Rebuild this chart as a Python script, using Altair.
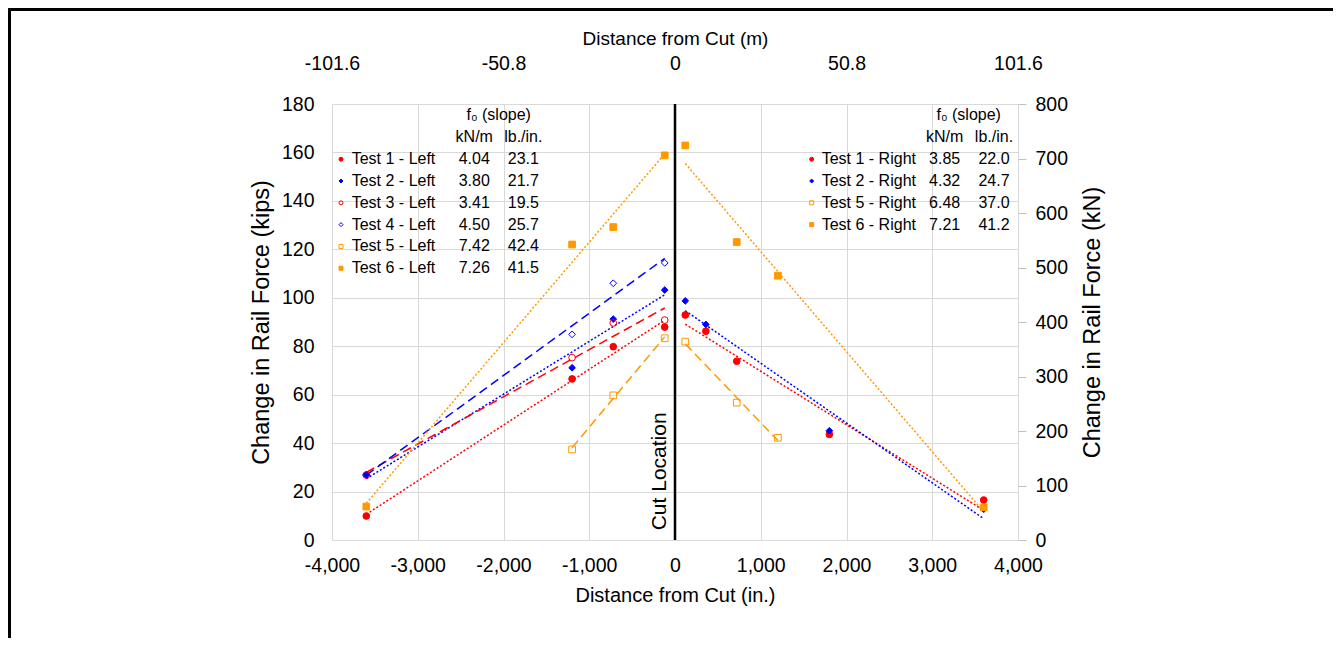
import altair as alt
import pandas as pd

# ---------------- data ----------------
T1L_X = [-3600, -1200, -720, -120]
T1L_Y = [9.9, 66.5, 79.8, 87.9]
T2L_X = [-3600, -1200, -720, -120]
T2L_Y = [26.8, 71.1, 91.2, 103.2]
T3L_X = [-3600, -1200, -720, -120]
T3L_Y = [26.8, 75.3, 89.6, 90.8]
T4L_X = [-3600, -1200, -720, -120]
T4L_Y = [27.0, 84.9, 106.0, 114.4]
T5L_X = [-1200, -720, -120]
T5L_Y = [37.4, 59.7, 83.3]
T6L_X = [-3600, -1200, -720, -120]
T6L_Y = [13.8, 122.0, 129.2, 158.8]

T1R_X = [120, 360, 720, 1800, 3600]
T1R_Y = [92.9, 86.2, 73.8, 43.6, 16.5]
T2R_X = [120, 360, 1800, 3600]
T2R_Y = [98.7, 89.0, 45.1, 12.7]
T5R_X = [120, 720, 1200]
T5R_Y = [81.9, 56.7, 42.2]
T6R_X = [120, 720, 1200, 3600]
T6R_Y = [162.9, 123.0, 109.1, 13.5]

TESTS = ["Test 1", "Test 2", "Test 3", "Test 4", "Test 5", "Test 6"]
LEFT_TESTS = ["Test 1", "Test 2", "Test 3", "Test 4", "Test 5", "Test 6"]
LEFT_LABELS = ["Test 1 - Left", "Test 2 - Left", "Test 3 - Left",
               "Test 4 - Left", "Test 5 - Left", "Test 6 - Left"]
LEFT_KNM = ["4.04", "3.80", "3.41", "4.50", "7.42", "7.26"]
LEFT_LBIN = ["23.1", "21.7", "19.5", "25.7", "42.4", "41.5"]
RIGHT_TESTS = ["Test 1", "Test 2", "Test 5", "Test 6"]
RIGHT_LABELS = ["Test 1 - Right", "Test 2 - Right", "Test 5 - Right", "Test 6 - Right"]
RIGHT_KNM = ["3.85", "4.32", "6.48", "7.21"]
RIGHT_LBIN = ["22.0", "24.7", "37.0", "41.2"]

X_TICKS_IN = [-4000, -3000, -2000, -1000, 0, 1000, 2000, 3000, 4000]
X_TICKS_M = [-101.6, -50.8, 0, 50.8, 101.6]
Y_TICKS_KIPS = [0, 20, 40, 60, 80, 100, 120, 140, 160, 180]
Y_TICKS_KN = [0, 100, 200, 300, 400, 500, 600, 700, 800]
CUT_X = [0]

# ---------------- styles ----------------
RED, BLUE, ORANGE = "#FF0000", "#0000FF", "#FF9900"
FONT = "Liberation Sans"
COLORS = [RED, BLUE, RED, BLUE, ORANGE, ORANGE]
FILLS = [RED, BLUE, "transparent", "transparent", "transparent", ORANGE]
SHAPES = ["circle", "diamond", "circle", "diamond", "square", "square"]
SIZES = [45, 45, 45, 45, 50, 60]
DASHES = [[2, 2], [2, 2], [9, 5], [9, 5], [9, 5], [2, 2]]
WIDTHS = [1.5, 1.5, 2, 2, 2, 1.5]

# layout (data coordinates of the table-style legend)
LEG_TOP, LEG_STEP = 157.2, 9.0
LEFT_SYM_X, LEFT_LAB_X, LEFT_KN_X, LEFT_LB_X, LEFT_HEAD_X = -3895, -3770, -2341, -1769, -2056
RIGHT_SYM_X, RIGHT_LAB_X, RIGHT_KN_X, RIGHT_LB_X, RIGHT_HEAD_X = 1594, 1711, 3145, 3720, 3425
HEAD1_Y, HEAD2_Y = 175.5, 166.5

W, H = 686, 436
PAD = {"left": 324, "top": 96, "right": 315, "bottom": 98}

# ---------------- tables ----------------
series = [
    ("Test 1", "Left", T1L_X, T1L_Y), ("Test 2", "Left", T2L_X, T2L_Y),
    ("Test 3", "Left", T3L_X, T3L_Y), ("Test 4", "Left", T4L_X, T4L_Y),
    ("Test 5", "Left", T5L_X, T5L_Y), ("Test 6", "Left", T6L_X, T6L_Y),
    ("Test 1", "Right", T1R_X, T1R_Y), ("Test 2", "Right", T2R_X, T2R_Y),
    ("Test 5", "Right", T5R_X, T5R_Y), ("Test 6", "Right", T6R_X, T6R_Y),
]
rows = []
for t, side, xs, ys in series:
    for xv, yv in zip(xs, ys):
        rows.append({"test": t, "series": f"{t} - {side}", "x": xv, "y": yv})
df = pd.DataFrame(rows)

leg_rows = []
for i, (t, lab, kn, lb) in enumerate(zip(LEFT_TESTS, LEFT_LABELS, LEFT_KNM, LEFT_LBIN)):
    leg_rows.append({"test": t, "label": lab, "kn": kn, "lb": lb, "ly": LEG_TOP - i * LEG_STEP,
                     "sx": LEFT_SYM_X, "lx": LEFT_LAB_X, "knx": LEFT_KN_X, "lbx": LEFT_LB_X})
for i, (t, lab, kn, lb) in enumerate(zip(RIGHT_TESTS, RIGHT_LABELS, RIGHT_KNM, RIGHT_LBIN)):
    leg_rows.append({"test": t, "label": lab, "kn": kn, "lb": lb, "ly": LEG_TOP - i * LEG_STEP,
                     "sx": RIGHT_SYM_X, "lx": RIGHT_LAB_X, "knx": RIGHT_KN_X, "lbx": RIGHT_LB_X})
leg = pd.DataFrame(leg_rows)

heads = pd.DataFrame([
    {"hx": LEFT_HEAD_X, "hy": HEAD1_Y, "txt": "f\u2080 (slope)"},
    {"hx": RIGHT_HEAD_X, "hy": HEAD1_Y, "txt": "f\u2080 (slope)"},
    {"hx": LEFT_KN_X, "hy": HEAD2_Y, "txt": "kN/m"},
    {"hx": LEFT_LB_X, "hy": HEAD2_Y, "txt": "lb./in."},
    {"hx": RIGHT_KN_X, "hy": HEAD2_Y, "txt": "kN/m"},
    {"hx": RIGHT_LB_X, "hy": HEAD2_Y, "txt": "lb./in."},
])

# ---------------- scales ----------------
xs_in = alt.Scale(domain=[-4000, 4000], nice=False)
ys_k = alt.Scale(domain=[0, 180], nice=False)
shape_s = alt.Scale(domain=TESTS, range=SHAPES)
fill_s = alt.Scale(domain=TESTS, range=FILLS)
stroke_s = alt.Scale(domain=TESTS, range=COLORS)

x_axis = alt.Axis(values=X_TICKS_IN, title="Distance from Cut (in.)",
                  labelExpr="(datum.value < 0 ? '-' : '') + format(abs(datum.value), ',')",
                  grid=True, ticks=False, tickSize=0, domain=False, labelFlush=False,
                  labelPadding=16, titlePadding=11, titleFontSize=20)
y_axis = alt.Axis(values=Y_TICKS_KIPS, title="Change in Rail Force (kips)",
                  grid=True, ticks=False, tickSize=0, domain=False, labelFlush=False,
                  labelPadding=18, titlePadding=8, titleFontSize=23.5)

base = alt.Chart(df)

lines = base.transform_regression(
    "x", "y", groupby=["series", "test"]
).mark_line().encode(
    x=alt.X("x:Q", scale=xs_in, axis=x_axis),
    y=alt.Y("y:Q", scale=ys_k, axis=y_axis),
    detail="series:N",
    stroke=alt.Stroke("test:N", scale=stroke_s, legend=None),
    strokeDash=alt.StrokeDash("test:N", scale=alt.Scale(domain=TESTS, range=DASHES), legend=None),
    strokeWidth=alt.StrokeWidth("test:N", scale=alt.Scale(domain=TESTS, range=WIDTHS), legend=None),
)

points = base.mark_point(filled=True, strokeWidth=1, opacity=1).encode(
    x=alt.X("x:Q", scale=xs_in),
    y=alt.Y("y:Q", scale=ys_k),
    shape=alt.Shape("test:N", scale=shape_s, legend=None),
    fill=alt.Fill("test:N", scale=fill_s, legend=None),
    stroke=alt.Stroke("test:N", scale=stroke_s, legend=None),
    size=alt.Size("test:N", scale=alt.Scale(domain=TESTS, range=SIZES), legend=None),
)

cut = alt.Chart(pd.DataFrame({"x": CUT_X})).mark_rule(color="black", strokeWidth=2.5).encode(
    x=alt.X("x:Q", scale=xs_in)
)
cut_label = alt.Chart(pd.DataFrame({"x": [-175], "y": [4], "t": ["Cut Location"]})).mark_text(
    angle=270, align="left", baseline="middle", fontSize=21, font=FONT, color="black"
).encode(x=alt.X("x:Q", scale=xs_in), y=alt.Y("y:Q", scale=ys_k), text="t:N")

lb = alt.Chart(leg)
leg_sym = lb.mark_point(filled=True, strokeWidth=1, size=16, opacity=1).encode(
    x=alt.X("sx:Q", scale=xs_in), y=alt.Y("ly:Q", scale=ys_k),
    shape=alt.Shape("test:N", scale=shape_s, legend=None),
    fill=alt.Fill("test:N", scale=fill_s, legend=None),
    stroke=alt.Stroke("test:N", scale=stroke_s, legend=None),
)
leg_lab = lb.mark_text(align="left", baseline="middle", fontSize=16, font=FONT, color="black").encode(
    x=alt.X("lx:Q", scale=xs_in), y=alt.Y("ly:Q", scale=ys_k), text="label:N")
leg_kn = lb.mark_text(align="center", baseline="middle", fontSize=16, font=FONT, color="black").encode(
    x=alt.X("knx:Q", scale=xs_in), y=alt.Y("ly:Q", scale=ys_k), text="kn:N")
leg_lb = lb.mark_text(align="center", baseline="middle", fontSize=16, font=FONT, color="black").encode(
    x=alt.X("lbx:Q", scale=xs_in), y=alt.Y("ly:Q", scale=ys_k), text="lb:N")
leg_head = alt.Chart(heads).mark_text(align="center", baseline="middle", fontSize=16, font=FONT,
                                      color="black").encode(
    x=alt.X("hx:Q", scale=xs_in), y=alt.Y("hy:Q", scale=ys_k), text="txt:N")

frame = alt.Chart(pd.DataFrame({"k": [0]})).mark_rect(
    fill="transparent", stroke="black", strokeWidth=3
).encode(
    x=alt.value(-PAD["left"] + 1.5), x2=alt.value(W + PAD["right"] + 20),
    y=alt.value(-PAD["top"] + 1.5), y2=alt.value(H + PAD["bottom"] + 20),
)

main = alt.layer(lines, points, cut, cut_label, leg_sym, leg_lab, leg_kn, leg_lb, leg_head, frame)

top_axis = alt.Chart(pd.DataFrame({"m": X_TICKS_M})).mark_point(opacity=0).encode(
    x=alt.X("m:Q", scale=alt.Scale(domain=[-101.6, 101.6], nice=False),
            axis=alt.Axis(orient="top", values=X_TICKS_M, title="Distance from Cut (m)",
                          labelExpr="datum.value == 0 ? '0' : ((datum.value < 0 ? '-' : '') + format(abs(datum.value), '.1f'))",
                          grid=False, ticks=False, tickSize=0, domain=False, labelFlush=False,
                          labelPadding=31, titlePadding=5, titleFontSize=19))
)
right_axis = alt.Chart(pd.DataFrame({"kn": Y_TICKS_KN})).mark_point(opacity=0).encode(
    y=alt.Y("kn:Q", scale=alt.Scale(domain=[0, 800], nice=False),
            axis=alt.Axis(orient="right", values=Y_TICKS_KN, title="Change in Rail Force (kN)",
                          grid=False, ticks=True, tickSize=8, tickColor="#BFBFBF", domain=False,
                          labelFlush=False, labelPadding=9, titlePadding=37, titleAngle=270,
                          titleFontSize=23.5))
)

chart = alt.layer(main, top_axis, right_axis).resolve_scale(
    x="independent", y="independent"
).properties(
    width=W, height=H, padding=PAD, autosize=alt.AutoSizeParams(type="none"),
    background="white",
).configure_view(stroke=None).configure_axis(
    labelFont=FONT, titleFont=FONT, labelFontSize=19.5, titleFontSize=20,
    labelColor="black", titleColor="black", titleFontWeight="normal",
    gridColor="#D9D9D9", gridWidth=1,
)

chart.save("out.html", embed_options={"renderer": "svg", "actions": False})
